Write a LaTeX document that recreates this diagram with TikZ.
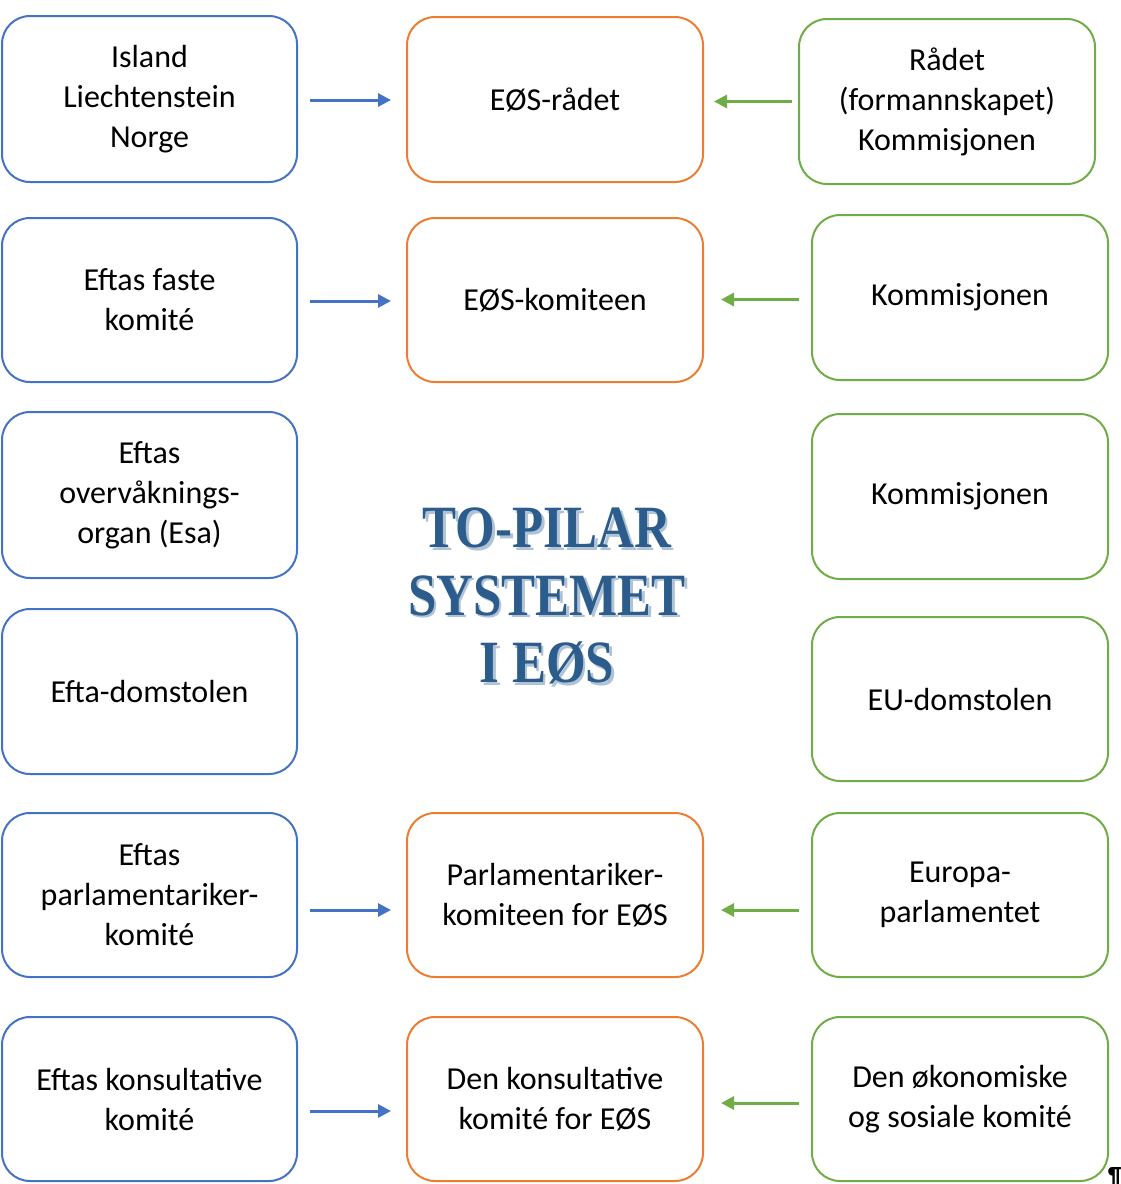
\documentclass[tikz,border=0pt]{standalone}
\usepackage{fontspec}
\setmainfont{Carlito}
\newfontfamily\titlefont[FakeStretch=0.85]{Liberation Serif Bold}
\usetikzlibrary{arrows.meta}
\definecolor{cblue}{HTML}{4472C4}
\definecolor{corange}{HTML}{ED7D31}
\definecolor{cgreen}{HTML}{70AD47}
\definecolor{ctitle}{HTML}{2C5C8C}
\definecolor{cshadow}{HTML}{AFC2D6}
\tikzset{
  box/.style={draw, line width=2pt, rounded corners=28pt, minimum width=295pt,
    minimum height=165pt, align=center, inner sep=0pt, text=black,
    font=\fontsize{32}{40}\selectfont},
  bluebox/.style={box, draw=cblue},
  orangebox/.style={box, draw=corange},
  greenbox/.style={box, draw=cgreen},
  bluearrow/.style={draw=cblue, line width=3pt, -{Triangle[length=13pt,width=13pt]},
    shorten <=12pt, shorten >=15pt},
  greenarrow/.style={draw=cgreen, line width=3pt, -{Triangle[length=13pt,width=13pt]},
    shorten <=12pt, shorten >=17pt},
  titlestyle/.style={align=center, inner sep=0pt,
    font=\titlefont\fontsize{60}{67.5}\selectfont}
}
\begin{document}
\begin{tikzpicture}[x=1pt,y=-1pt]
\useasboundingbox (0,0) rectangle (1120,1184);
% left column
\node[bluebox, minimum height=166pt] (l1) at (149.5,99) {Island\\Liechtenstein\\Norge};
\node[bluebox, minimum height=164pt] (l2) at (149.5,300) {Eftas faste\\komité};
\node[bluebox, minimum height=166pt] (l3) at (149.5,495) {Eftas\\overvåknings-\\organ (Esa)};
\node[bluebox] (l4) at (149.5,691.5) {Efta-domstolen};
\node[bluebox, minimum height=164pt] (l5) at (149.5,895) {Eftas\\parlamentariker-\\komité};
\node[bluebox, minimum height=164pt] (l6) at (149.5,1099) {Eftas konsultative\\komité};
% middle column
\node[orangebox, minimum width=296pt] (m1) at (555,99.5) {EØS-rådet};
\node[orangebox, minimum width=296pt, minimum height=164pt] (m2) at (555,300) {EØS-komiteen};
\node[orangebox, minimum width=296pt, minimum height=164pt] (m5) at (555,895) {Parlamentariker-\\komiteen for EØS};
\node[orangebox, minimum width=296pt, minimum height=164pt] (m6) at (555,1099) {Den konsultative\\komité for EØS};
% right column
\node[greenbox, minimum width=296pt] (r1) at (947,101.5) {Rådet\\(formannskapet)\\Kommisjonen};
\node[greenbox, minimum width=296pt] (r2) at (960,297.5) {Kommisjonen};
\node[greenbox, minimum width=296pt] (r3) at (960,496.5) {Kommisjonen};
\node[greenbox, minimum width=296pt, minimum height=164pt] (r4) at (960,699) {EU-domstolen};
\node[greenbox, minimum width=296pt, minimum height=164pt] (r5) at (960,895) {Europa-\\parlamentet};
\node[greenbox, minimum width=296pt, minimum height=164pt] (r6) at (960,1099) {Den økonomiske\\og sosiale komité};
% title
\node[titlestyle, text=cshadow] (tshadow) at (549.5,598.5) {TO-PILAR\\SYSTEMET\\I EØS};
\node[titlestyle, text=ctitle] (title) at (547,596) {TO-PILAR\\SYSTEMET\\I EØS};
% arrows
\draw[bluearrow] ([yshift=-1pt]l1.east) -- ([yshift=-1pt]l1.east -| m1.west);
\draw[bluearrow] ([yshift=-1pt]l2.east) -- ([yshift=-1pt]l2.east -| m2.west);
\draw[bluearrow] ([yshift=-15pt]l5.east) -- ([yshift=-15pt]l5.east -| m5.west);
\draw[bluearrow] ([yshift=-12pt]l6.east) -- ([yshift=-12pt]l6.east -| m6.west);
\draw[greenarrow, shorten <=6pt, shorten >=10pt] (r1.west) -- (r1.west -| m1.east);
\draw[greenarrow] ([yshift=-2pt]r2.west) -- ([yshift=-2pt]r2.west -| m2.east);
\draw[greenarrow] ([yshift=-15pt]r5.west) -- ([yshift=-15pt]r5.west -| m5.east);
\draw[greenarrow] ([yshift=-4pt]r6.west) -- ([yshift=-4pt]r6.west -| m6.east);
% paragraph mark
\node[anchor=north west, inner sep=0pt, font=\fontsize{22}{22}\selectfont\bfseries] (pil) at (1108,1167) {¶};
\end{tikzpicture}
\end{document}
